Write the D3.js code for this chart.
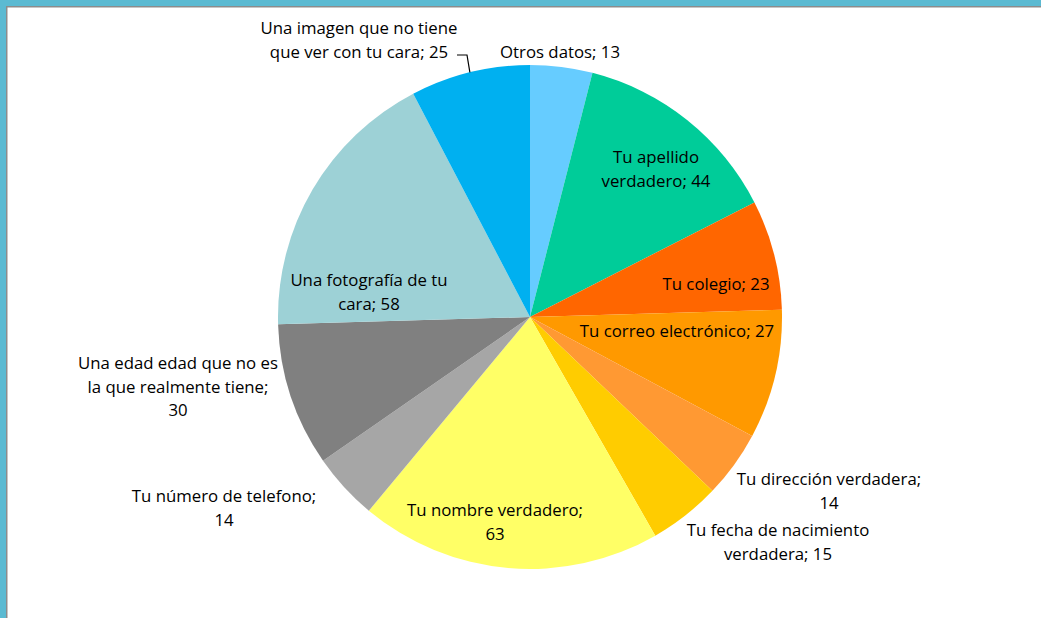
<!DOCTYPE html>
<html><head><meta charset="utf-8">
<script src="https://cdn.jsdelivr.net/npm/d3@7"></script>
<style>
html,body{margin:0;padding:0;background:#fff;}
svg{display:block;}
text{font-family:"Open Sans", Lato, sans-serif;font-size:16.8px;fill:#000;}
</style></head>
<body>
<svg id="c" width="1041" height="618"></svg>
<script>
const categories = ["Otros datos","Tu apellido verdadero","Tu colegio","Tu correo electrónico","Tu dirección verdadera","Tu fecha de nacimiento verdadera","Tu nombre verdadero","Tu número de telefono","Una edad edad que no es la que realmente tiene","Una fotografía de tu cara","Una imagen que no tiene que ver con tu cara"];
const values = [13,44,23,27,14,15,63,14,30,58,25];
const colors = ["#66CCFF","#00CC99","#FF6600","#FF9900","#FF9933","#FFCC00","#FFFF66","#A6A6A6","#808080","#9DD1D6","#00B0F0"];
// label text lines (as in the chart)
const labelLines = [
  ["Otros datos; 13"],
  ["Tu apellido","verdadero; 44"],
  ["Tu colegio; 23"],
  ["Tu correo electrónico; 27"],
  ["Tu dirección verdadera;","14"],
  ["Tu fecha de nacimiento","verdadera; 15"],
  ["Tu nombre verdadero;","63"],
  ["Tu número de telefono;","14"],
  ["Una edad edad que no es","la que realmente tiene;","30"],
  ["Una fotografía de tu","cara; 58"],
  ["Una imagen que no tiene","que ver con tu cara; 25"]
];
// label centre positions relative to pie centre
const labelPos = [[30,-265],[126,-148],[186,-33],[147,14],[299,174],[248,225],[-35,205],[-306,191],[-352,70],[-161,-25],[-171,-277]];

const W=1041,H=618, cx=530, cy=317, R=252;
const svg=d3.select("#c");
// frame
svg.append("rect").attr("x",0).attr("y",0).attr("width",W).attr("height",H).attr("fill","#5BBAD2");
svg.append("rect").attr("x",6).attr("y",6).attr("width",W).attr("height",H).attr("fill","#8c8c8c");
svg.append("rect").attr("x",7.5).attr("y",7.5).attr("width",W).attr("height",H).attr("fill","#ffffff");

const data = categories.map((c,i)=>({cat:c,value:values[i],color:colors[i],lines:labelLines[i],pos:labelPos[i]}));
const pie=d3.pie().value(d=>d.value).sort(null);
const arc=d3.arc().innerRadius(0).outerRadius(R);
const g=svg.append("g").attr("transform",`translate(${cx},${cy})`);
const arcs=pie(data);
g.selectAll("path").data(arcs).join("path").attr("d",arc).attr("fill",d=>d.data.color);

const lh=23.5;
const lbl=g.selectAll("text.l").data(arcs).join("text").attr("class","l").attr("text-anchor","middle");
lbl.each(function(d){
  const t=d3.select(this), n=d.data.lines.length;
  d.data.lines.forEach((s,k)=>{
    t.append("tspan").attr("x",d.data.pos[0]).attr("y",d.data.pos[1]+(k-(n-1)/2)*lh).attr("dy","0.35em").text(s);
  });
});
// leader line for the last slice
const last=arcs[arcs.length-1];
const mid=(last.startAngle+last.endAngle)/2;
const px=Math.sin(mid)*R, py=-Math.cos(mid)*R;
g.append("path").attr("d",`M${-73},${-262}L${-63},${-262}L${px},${py}`).attr("fill","none").attr("stroke","#000").attr("stroke-width",1.2);
</script>
</body></html>
